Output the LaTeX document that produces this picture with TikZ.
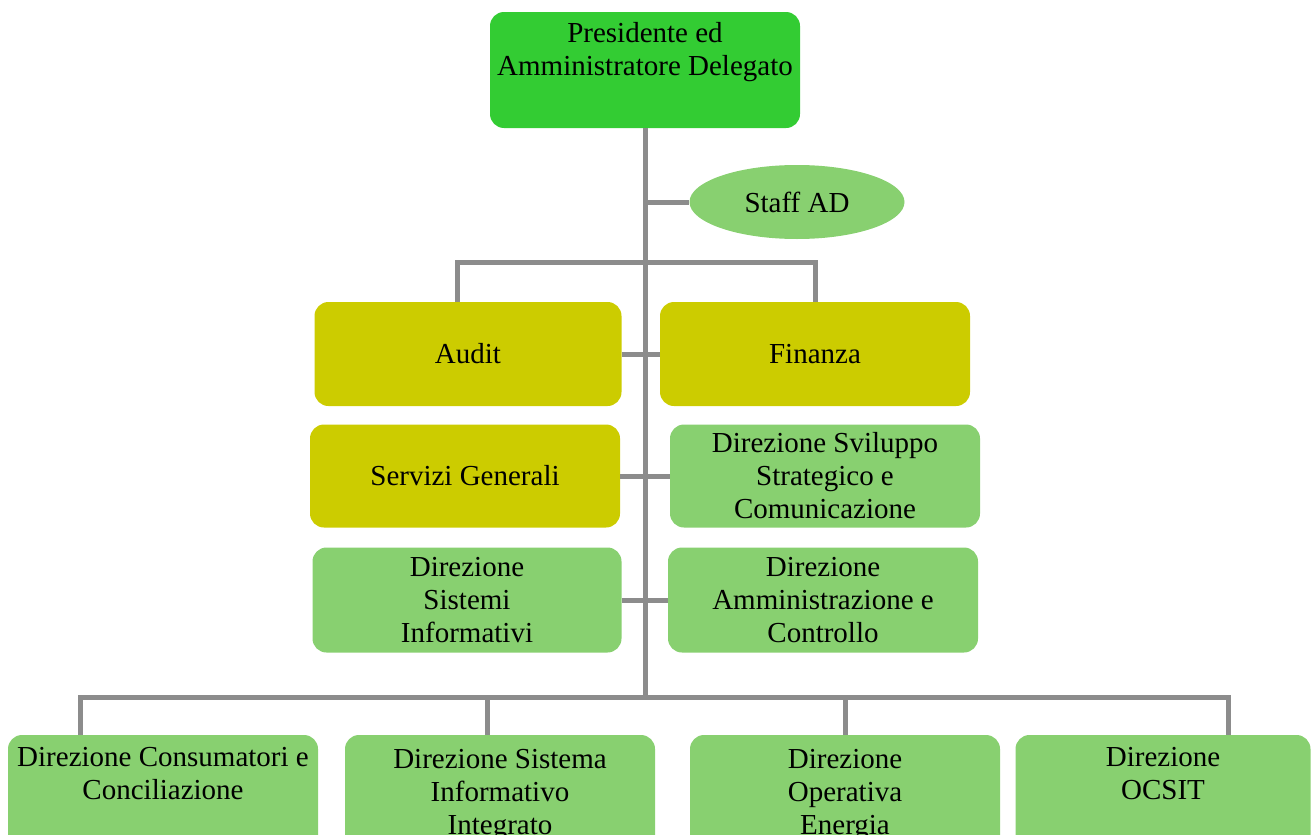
\documentclass[tikz,border=0pt]{standalone}
\usepackage{fontspec}
\setmainfont{Liberation Serif}
\usetikzlibrary{shapes.geometric}
\definecolor{topgreen}{HTML}{33CC33}
\definecolor{olive}{HTML}{CCCC00}
\definecolor{lgreen}{HTML}{88D070}
\definecolor{conn}{HTML}{8C8C8C}
\tikzset{
  box/.style={rectangle, rounded corners=14pt, inner sep=2pt, align=center,
    font=\fontsize{29}{33}\selectfont, text=black},
  gbox/.style={box, fill=lgreen},
  ybox/.style={box, fill=olive},
  link/.style={draw=conn, line width=5pt},
}
\begin{document}
\begin{tikzpicture}[x=1pt, y=-1pt]
\useasboundingbox (0,0) rectangle (1312,835);
\clip (0,0) rectangle (1312,835);
\coordinate (busbot) at (645,697);
\coordinate (ta) at (457,262);
\coordinate (tf) at (815,262);
\coordinate (v1) at (80,697);
\coordinate (v2) at (487,697);
\coordinate (v3) at (845,697);
\coordinate (v4) at (1228,697);

\node[box, fill=topgreen, minimum width=310pt, minimum height=116pt] (pres) at (645,70)
  {Presidente ed\\Amministratore Delegato\\\strut};
\node[ellipse, fill=lgreen, minimum width=215pt, minimum height=74pt, inner sep=0pt,
  font=\fontsize{29}{33}\selectfont] (staff) at (797,202) {Staff AD};

\node[ybox, minimum width=307pt, minimum height=104pt] (audit) at (468,354) {Audit};
\node[ybox, minimum width=310pt, minimum height=104pt] (fin) at (815,354) {Finanza};
\node[ybox, minimum width=310pt, minimum height=103pt] (serv) at (465,476) {Servizi Generali};
\node[gbox, minimum width=310pt, minimum height=103pt] (svil) at (825,476)
  {Direzione Sviluppo\\Strategico e\\Comunicazione};
\node[gbox, minimum width=309pt, minimum height=105pt] (sist) at (467,600)
  {Direzione\\Sistemi\\Informativi};
\node[gbox, minimum width=310pt, minimum height=105pt] (amm) at (823,600)
  {Direzione\\Amministrazione e\\Controllo};

\node[gbox, minimum width=310pt, minimum height=120pt] (b1) at (163,795)
  {Direzione Consumatori e\\Conciliazione\\\strut};
\node[gbox, minimum width=310pt, minimum height=120pt] (b2) at (500,795)
  {Direzione Sistema\\Informativo\\Integrato};
\node[gbox, minimum width=310pt, minimum height=120pt] (b3) at (845,795)
  {Direzione\\Operativa\\Energia};
\node[gbox, minimum width=295pt, minimum height=120pt] (b4) at (1163,795)
  {Direzione\\OCSIT\\\strut};

\draw[link] (pres.south) -- (busbot);
\draw[link] (pres.south |- staff.west) -- (staff.west);
\draw[link] (ta |- audit.north) -- (ta) -- (tf) -- (tf |- fin.north);
\draw[link] (audit.east) -- (fin.west);
\draw[link] (serv.east) -- (svil.west);
\draw[link] (sist.east) -- (amm.west);
\draw[link] (v1 |- b1.north) -- (v1) -- (v4) -- (v4 |- b4.north);
\draw[link] (v2) -- (v2 |- b2.north);
\draw[link] (v3) -- (v3 |- b3.north);
\end{tikzpicture}
\end{document}
